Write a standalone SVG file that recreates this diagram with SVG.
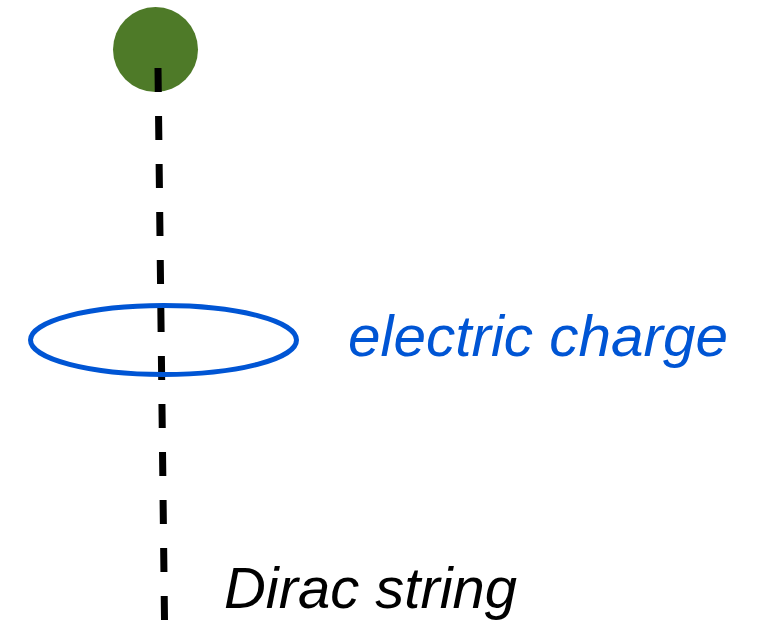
<svg xmlns="http://www.w3.org/2000/svg" width="759" height="623" viewBox="0 0 759 623">
<style>
.lbl{font-family:"Liberation Sans",Arial,sans-serif;font-style:italic;font-size:57px}
</style>
<rect width="759" height="623" fill="#ffffff"/>
<g id="monopole"><circle cx="155.5" cy="49.5" r="42.5" fill="#4e7a28"/></g>
<g id="connectors">
<line x1="158" y1="68" x2="164.5" y2="620" stroke="#000" stroke-width="7" stroke-dasharray="24 24"/>
</g>
<g id="charge"><ellipse cx="163.5" cy="340" rx="133" ry="34.5" fill="none" stroke="#0055d4" stroke-width="5"/></g>
<g id="charge-label"><text class="lbl" x="348" y="356" fill="#0055d4" textLength="380" lengthAdjust="spacingAndGlyphs">electric charge</text></g>
<g id="string-label"><text class="lbl" x="224" y="608" fill="#000" textLength="293" lengthAdjust="spacingAndGlyphs">Dirac string</text></g>
</svg>
